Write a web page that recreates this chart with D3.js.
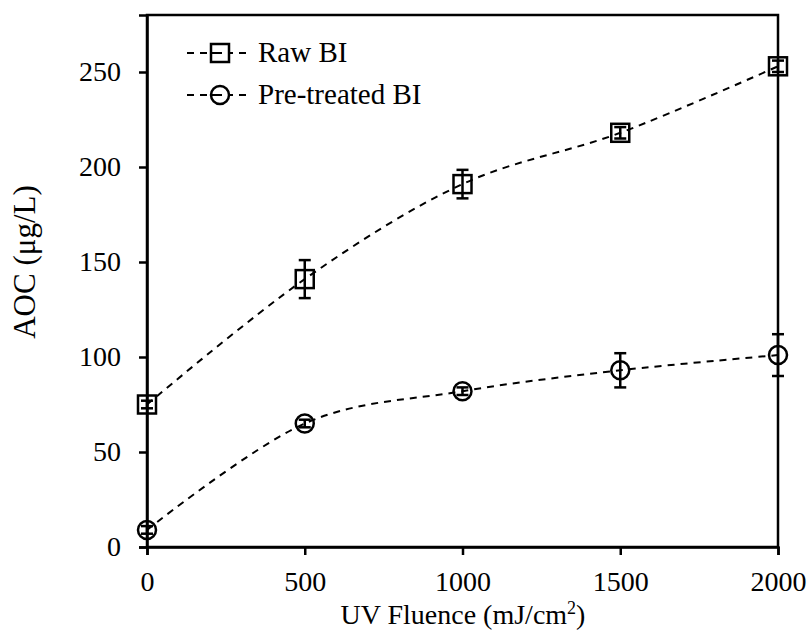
<!DOCTYPE html>
<html><head><meta charset="utf-8">
<script src="https://cdn.jsdelivr.net/npm/d3@7"></script>
<style>body{margin:0;background:#fff}svg{display:block}svg text{font-family:'Liberation Serif','Times New Roman',Times,serif !important}</style>
</head><body><svg id="c" width="809" height="639"></svg>
<script>
const fluence = [0, 500, 1000, 1500, 2000];
const rawBI = [75, 141, 191, 218, 253];
const rawErr = [2, 10, 7.5, 3, 3];
const preBI = [9, 65, 82, 93, 101];
const preErr = [2, 2, 2, 9, 11];
const xTicks = [0, 500, 1000, 1500, 2000];
const yTicks = [0, 50, 100, 150, 200, 250];
const seriesNames = ["Raw BI", "Pre-treated BI"];

const FONT = "'Liberation Serif', 'Times New Roman', Times, serif";
const svg = d3.select("#c").attr("font-family", FONT);
const L = 147, R = 778, T = 15, B = 547;
const x = d3.scaleLinear().domain([0, 2000]).range([L, R]);
const y = d3.scaleLinear().domain([0, 280]).range([B, T]);

svg.append("rect").attr("x", L).attr("y", T).attr("width", R - L).attr("height", B - T)
  .attr("fill", "none").attr("stroke", "#000").attr("stroke-width", 2.5);

const xa = svg.append("g").attr("transform", `translate(0,${B})`)
  .call(d3.axisBottom(x).tickValues(xTicks).tickSize(8).tickPadding(16).tickFormat(d3.format("d")));
const ya = svg.append("g").attr("transform", `translate(${L},0)`)
  .call(d3.axisLeft(y).tickValues(yTicks).tickSize(8).tickPadding(18).tickFormat(d3.format("d")));
[xa, ya].forEach(a => {
  a.attr("font-family", FONT).attr("font-size", 28);
  a.select(".domain").attr("stroke", "#000").attr("stroke-width", 2.5);
  a.selectAll(".tick line").attr("stroke", "#000").attr("stroke-width", 2.5);
  a.selectAll("text").attr("fill", "#000");
});

const line = d3.line().x(d => x(d[0])).y(d => y(d[1])).curve(d3.curveCardinal.tension(0));
const dash = "7,6";

function drawSeries(vals, errs, shape) {
  const pts = fluence.map((f, i) => [f, vals[i]]);
  svg.append("path").attr("d", line(pts)).attr("fill", "none").attr("stroke", "#000")
    .attr("stroke-width", 2).attr("stroke-dasharray", dash);
  pts.forEach((p, i) => {
    const cx = x(p[0]), cy = y(p[1]);
    const e1 = y(p[1] + errs[i]), e2 = y(p[1] - errs[i]);
    const g = svg.append("g").attr("stroke", "#000").attr("stroke-width", 2.5).attr("fill", "none");
    g.append("line").attr("x1", cx).attr("x2", cx).attr("y1", e1).attr("y2", e2);
    g.append("line").attr("x1", cx - 6).attr("x2", cx + 6).attr("y1", e1).attr("y2", e1);
    g.append("line").attr("x1", cx - 6).attr("x2", cx + 6).attr("y1", e2).attr("y2", e2);
    if (shape === "square") g.append("rect").attr("x", cx - 9).attr("y", cy - 9).attr("width", 18).attr("height", 18);
    else g.append("circle").attr("cx", cx).attr("cy", cy).attr("r", 9);
  });
}
drawSeries(rawBI, rawErr, "square");
drawSeries(preBI, preErr, "circle");

const legY = [53, 95];
seriesNames.forEach((name, i) => {
  const ly = legY[i];
  svg.append("line").attr("x1", 187).attr("x2", 247).attr("y1", ly).attr("y2", ly)
    .attr("stroke", "#000").attr("stroke-width", 2).attr("stroke-dasharray", dash);
  const g = svg.append("g").attr("stroke", "#000").attr("stroke-width", 2.5).attr("fill", "#fff");
  if (i === 0) g.append("rect").attr("x", 211).attr("y", ly - 9).attr("width", 18).attr("height", 18);
  else g.append("circle").attr("cx", 220).attr("cy", ly).attr("r", 9);
  g.append("line").attr("x1", 210).attr("x2", 222).attr("y1", ly).attr("y2", ly).attr("stroke-width", 2);
  svg.append("text").attr("x", 258).attr("y", ly + 9).attr("font-size", 29).attr("fill", "#000").text(name);
});

svg.append("text").attr("x", 463).attr("y", 624).attr("text-anchor", "middle").attr("font-size", 28).attr("fill", "#000")
  .html('UV Fluence (mJ/cm<tspan dy="-10" font-size="18">2</tspan><tspan dy="10">)</tspan>');
svg.append("text").attr("transform", `translate(35,262) rotate(-90)`).attr("text-anchor", "middle")
  .attr("font-size", 31).attr("fill", "#000").text("AOC (μg/L)");
</script></body></html>
